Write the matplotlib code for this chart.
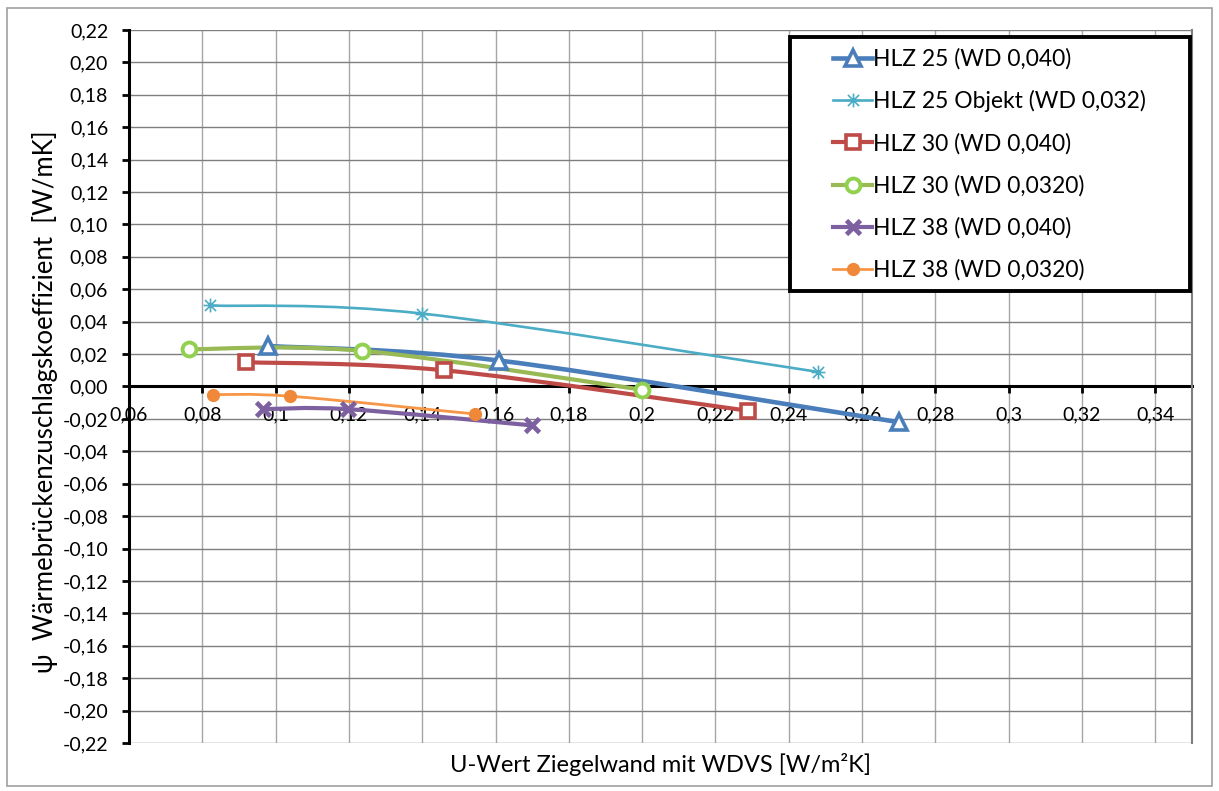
import numpy as np
import matplotlib
matplotlib.use("Agg")
import matplotlib.pyplot as plt
from matplotlib.path import Path
from matplotlib.patches import PathPatch, Rectangle
from matplotlib.ticker import FixedLocator, FuncFormatter

plt.rcParams['font.family'] = ['Lato', 'DejaVu Sans']

# data
hlz25_x = [0.098, 0.161, 0.270]
hlz25_y = [0.025, 0.016, -0.022]
hlz25obj_x = [0.082, 0.140, 0.248]
hlz25obj_y = [0.050, 0.045, 0.009]
hlz30_x = [0.092, 0.146, 0.229]
hlz30_y = [0.015, 0.010, -0.015]
hlz30b_x = [0.0765, 0.1237, 0.200]
hlz30b_y = [0.023, 0.022, -0.002]
hlz38_x = [0.0966, 0.1198, 0.170]
hlz38_y = [-0.014, -0.014, -0.024]
hlz38b_x = [0.083, 0.104, 0.1545]
hlz38b_y = [-0.005, -0.006, -0.017]

labels = ["HLZ 25 (WD 0,040)", "HLZ 25 Objekt (WD 0,032)", "HLZ 30 (WD 0,040)",
          "HLZ 30 (WD 0,0320)", "HLZ 38 (WD 0,040)", "HLZ 38 (WD 0,0320)"]

x_ticks = [0.06, 0.08, 0.10, 0.12, 0.14, 0.16, 0.18, 0.20, 0.22, 0.24, 0.26, 0.28, 0.30, 0.32, 0.34]
y_ticks = np.round(np.arange(-0.22, 0.2201, 0.02), 2)

# excel style asterisk marker
star = Path([(0, -1), (0, 1), (-0.8, -0.8), (0.8, 0.8), (-0.8, 0.8), (0.8, -0.8), (-1, 0), (1, 0)],
            [Path.MOVETO, Path.LINETO] * 4)


def smooth_path(xs, ys):
    # excel "smoothed line": cubic bezier, catmull-rom control points
    p = np.column_stack([xs, ys])
    n = len(p)
    verts = [p[0]]
    codes = [Path.MOVETO]
    for i in range(n - 1):
        p0 = p[i - 1] if i > 0 else p[i]
        p3 = p[i + 2] if i + 2 < n else p[i + 1]
        c1 = p[i] + (p[i + 1] - p0) / 6
        c2 = p[i + 1] - (p3 - p[i]) / 6
        verts += [c1, c2, p[i + 1]]
        codes += [Path.CURVE4] * 3
    return Path(verts, codes)


fig = plt.figure(figsize=(12.19, 7.91), dpi=100)
ax = fig.add_axes([129 / 1219, 1 - 743 / 791, (1192 - 129) / 1219, (743 - 30) / 791])

series = [
    (hlz25_x, hlz25_y, '#4a7ebb', 3.3, dict(marker='^', ms=11.5, mfc='white', mec='#4a7ebb', mew=2.6)),
    (hlz25obj_x, hlz25obj_y, '#4bacc6', 1.9, dict(marker=star, ms=10, mfc='none', mec='#4bacc6', mew=1.2)),
    (hlz30_x, hlz30_y, '#be4b48', 3.0, dict(marker='s', ms=10, mfc='white', mec='#be4b48', mew=2.6)),
    (hlz30b_x, hlz30b_y, '#98b954', 3.0, dict(marker='o', ms=10, mfc='white', mec='#92d050', mew=2.8)),
    (hlz38_x, hlz38_y, '#7d60a0', 3.0, dict(marker='x', ms=10.5, mfc='none', mec='#7d60a0', mew=3.4)),
    (hlz38b_x, hlz38b_y, '#f79646', 2.0, dict(marker='o', ms=8.5, mfc='#f0883a', mec='#f0883a', mew=1)),
]

handles = []
for (xs, ys, col, lw, mk), lab in zip(series, labels):
    ax.add_patch(PathPatch(smooth_path(xs, ys), fc='none', ec=col, lw=lw, zorder=3,
                           capstyle='round', joinstyle='round'))
    ax.plot(xs, ys, ls='none', zorder=4, **mk)
    h, = ax.plot([], [], color=col, lw=lw, **mk)
    h.set_label(lab)
    handles.append(h)

ax.set_xlim(0.06, 0.35)
ax.set_ylim(-0.22, 0.22)

ax.xaxis.set_major_locator(FixedLocator(x_ticks))
ax.yaxis.set_major_locator(FixedLocator(y_ticks))
ax.xaxis.set_major_formatter(FuncFormatter(lambda v, p: ('%g' % round(v, 2)).replace('.', ',')))
ax.yaxis.set_major_formatter(FuncFormatter(lambda v, p: ('%.2f' % v).replace('.', ',').replace('-0,00', '0,00')))

for x in x_ticks[1:]:
    ax.axvline(x, color='#a6a6a6', lw=1, zorder=1)
for y in y_ticks:
    ax.axhline(y, color='#7f7f7f', lw=1, zorder=1)

ax.spines['left'].set_linewidth(2.2)
ax.spines['left'].set_color('black')
ax.spines['bottom'].set_position(('data', 0))
ax.spines['bottom'].set_linewidth(2.2)
ax.spines['bottom'].set_color('black')
ax.spines['bottom'].set_zorder(2)
ax.spines['top'].set_visible(False)
ax.spines['right'].set_color('#7f7f7f')
ax.spines['right'].set_linewidth(1.5)

ax.tick_params(axis='y', direction='out', length=5, width=2, labelsize=14, pad=10)
ax.tick_params(axis='x', direction='out', length=5, width=2, labelsize=14, pad=9)

fig.text(45 / 1219, 1 - 402 / 791, "ψ  Wärmebrückenzuschlagskoeffizient  [W/mK]",
         rotation=90, ha='center', va='center', fontsize=18.5)
fig.text(660 / 1219, 1 - 765 / 791, "U-Wert Ziegelwand mit WDVS [W/m²K]",
         ha='center', va='center', fontsize=17)

# legend box
fig.patches.append(Rectangle((790 / 1219, 1 - 291 / 791), 400 / 1219, 254 / 791,
                             transform=fig.transFigure, fc='white', ec='black', lw=2.8, zorder=5))
leg = fig.legend(handles=handles, loc='upper left', bbox_to_anchor=(817 / 1219, 1 - 32 / 791),
                 frameon=False, fontsize=16.5, handlelength=1.7, handletextpad=0.05,
                 labelspacing=0.9, borderpad=0.2, markerscale=1.0)
leg.set_zorder(6)

# outer chart border
fig.patches.append(Rectangle((7 / 1219, 1 - 786 / 791), 1205 / 1219, 778 / 791,
                             transform=fig.transFigure, fc='none', ec='#a0a0a0', lw=1.2))

fig.savefig("out.png", dpi=100)
